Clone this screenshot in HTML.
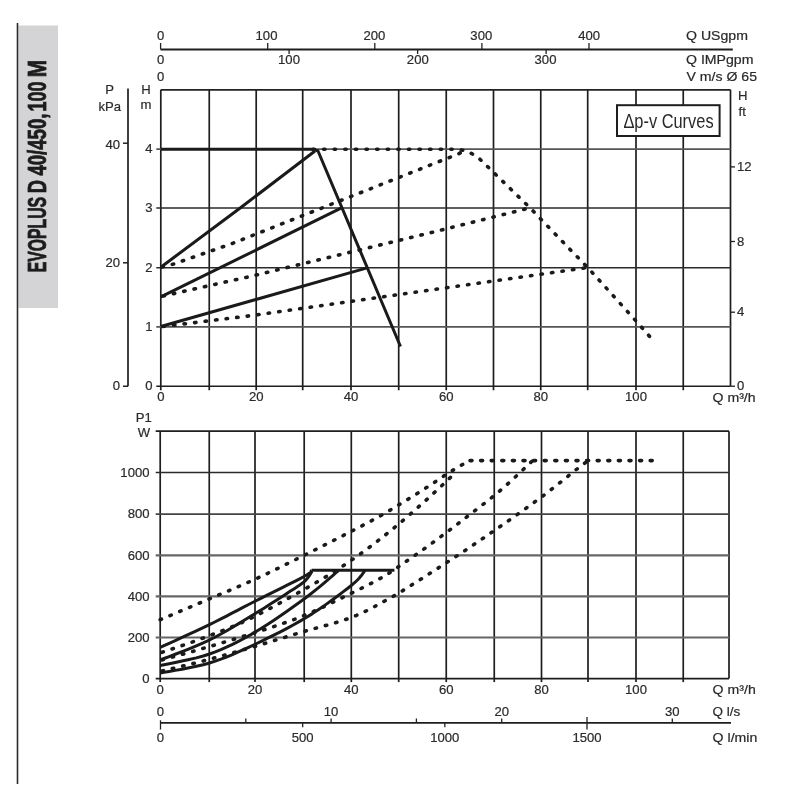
<!DOCTYPE html>
<html><head><meta charset="utf-8"><style>
html,body{margin:0;padding:0;background:#fff;width:800px;height:800px;overflow:hidden}
svg{position:absolute;left:0;top:0;font-family:"Liberation Sans", sans-serif;filter:blur(0.45px)}
</style></head><body>
<svg width="800" height="800" viewBox="0 0 800 800">
<rect x="18.5" y="25.5" width="39.5" height="282.5" fill="#d4d4d6"/>
<line x1="17.5" y1="23" x2="17.5" y2="784" stroke="#2a2a2a" stroke-width="1.6"/>
<line x1="160.6" y1="49.5" x2="732.8" y2="49.5" stroke="#1e1e1e" stroke-width="1.8"/>
<line x1="160.6" y1="43" x2="160.6" y2="49.5" stroke="#222" stroke-width="1.3"/>
<line x1="267.7" y1="43" x2="267.7" y2="49.5" stroke="#222" stroke-width="1.3"/>
<line x1="374.8" y1="43" x2="374.8" y2="49.5" stroke="#222" stroke-width="1.3"/>
<line x1="481.9" y1="43" x2="481.9" y2="49.5" stroke="#222" stroke-width="1.3"/>
<line x1="589.0" y1="43" x2="589.0" y2="49.5" stroke="#222" stroke-width="1.3"/>
<line x1="289.1" y1="49.5" x2="289.1" y2="54" stroke="#222" stroke-width="1.3"/>
<line x1="417.6" y1="49.5" x2="417.6" y2="54" stroke="#222" stroke-width="1.3"/>
<line x1="546.1" y1="49.5" x2="546.1" y2="54" stroke="#222" stroke-width="1.3"/>
<text x="0" y="0" transform="translate(160.6,39.5) scale(1.05,1)" text-anchor="middle" font-size="12.5" fill="#2a2a2a" stroke="#2a2a2a" stroke-width="0.2" >0</text>
<text x="0" y="0" transform="translate(266.5,39.5) scale(1.05,1)" text-anchor="middle" font-size="12.5" fill="#2a2a2a" stroke="#2a2a2a" stroke-width="0.2" >100</text>
<text x="0" y="0" transform="translate(374.4,39.5) scale(1.05,1)" text-anchor="middle" font-size="12.5" fill="#2a2a2a" stroke="#2a2a2a" stroke-width="0.2" >200</text>
<text x="0" y="0" transform="translate(481.3,39.5) scale(1.05,1)" text-anchor="middle" font-size="12.5" fill="#2a2a2a" stroke="#2a2a2a" stroke-width="0.2" >300</text>
<text x="0" y="0" transform="translate(589.1,39.5) scale(1.05,1)" text-anchor="middle" font-size="12.5" fill="#2a2a2a" stroke="#2a2a2a" stroke-width="0.2" >400</text>
<text x="0" y="0" transform="translate(160.6,63.8) scale(1.05,1)" text-anchor="middle" font-size="12.5" fill="#2a2a2a" stroke="#2a2a2a" stroke-width="0.2" >0</text>
<text x="0" y="0" transform="translate(289,63.8) scale(1.05,1)" text-anchor="middle" font-size="12.5" fill="#2a2a2a" stroke="#2a2a2a" stroke-width="0.2" >100</text>
<text x="0" y="0" transform="translate(417.8,63.8) scale(1.05,1)" text-anchor="middle" font-size="12.5" fill="#2a2a2a" stroke="#2a2a2a" stroke-width="0.2" >200</text>
<text x="0" y="0" transform="translate(545.5,63.8) scale(1.05,1)" text-anchor="middle" font-size="12.5" fill="#2a2a2a" stroke="#2a2a2a" stroke-width="0.2" >300</text>
<text x="0" y="0" transform="translate(160.6,81) scale(1.05,1)" text-anchor="middle" font-size="12.5" fill="#2a2a2a" stroke="#2a2a2a" stroke-width="0.2" >0</text>
<text x="0" y="0" transform="translate(686,39.5) scale(1.13,1)" text-anchor="start" font-size="12.5" fill="#2a2a2a" stroke="#2a2a2a" stroke-width="0.2" >Q USgpm</text>
<text x="0" y="0" transform="translate(686,63.6) scale(1.13,1)" text-anchor="start" font-size="12.5" fill="#2a2a2a" stroke="#2a2a2a" stroke-width="0.2" >Q IMPgpm</text>
<text x="0" y="0" transform="translate(686.4,81.2) scale(1.13,1)" text-anchor="start" font-size="12.5" fill="#2a2a2a" stroke="#2a2a2a" stroke-width="0.2" >V m/s Ø 65</text>
<line x1="160.8" y1="89.8" x2="160.8" y2="390.25" stroke="#1e1e1e" stroke-width="1.7"/>
<line x1="209.25" y1="89.8" x2="209.25" y2="390.25" stroke="#1e1e1e" stroke-width="1.7"/>
<line x1="256.2" y1="89.8" x2="256.2" y2="390.25" stroke="#1e1e1e" stroke-width="1.7"/>
<line x1="302.7" y1="89.8" x2="302.7" y2="390.25" stroke="#1e1e1e" stroke-width="1.7"/>
<line x1="351.0" y1="89.8" x2="351.0" y2="390.25" stroke="#1e1e1e" stroke-width="1.7"/>
<line x1="398.7" y1="89.8" x2="398.7" y2="390.25" stroke="#1e1e1e" stroke-width="1.7"/>
<line x1="446.25" y1="89.8" x2="446.25" y2="390.25" stroke="#1e1e1e" stroke-width="1.7"/>
<line x1="493.5" y1="89.8" x2="493.5" y2="390.25" stroke="#1e1e1e" stroke-width="1.7"/>
<line x1="540.75" y1="89.8" x2="540.75" y2="390.25" stroke="#1e1e1e" stroke-width="1.7"/>
<line x1="587.7" y1="89.8" x2="587.7" y2="390.25" stroke="#1e1e1e" stroke-width="1.7"/>
<line x1="636.0" y1="89.8" x2="636.0" y2="390.25" stroke="#1e1e1e" stroke-width="1.7"/>
<line x1="683.25" y1="89.8" x2="683.25" y2="390.25" stroke="#1e1e1e" stroke-width="1.7"/>
<line x1="730.5" y1="89.8" x2="730.5" y2="386.25" stroke="#1e1e1e" stroke-width="1.7"/>
<line x1="160.8" y1="89.8" x2="730.5" y2="89.8" stroke="#222" stroke-width="1.7"/>
<line x1="156.3" y1="149.2" x2="730.5" y2="149.2" stroke="#555" stroke-width="1.7"/>
<line x1="156.3" y1="208" x2="730.5" y2="208" stroke="#2a2a2a" stroke-width="1.7"/>
<line x1="156.3" y1="267.75" x2="730.5" y2="267.75" stroke="#2a2a2a" stroke-width="1.7"/>
<line x1="156.3" y1="326.8" x2="730.5" y2="326.8" stroke="#555" stroke-width="1.7"/>
<line x1="156.3" y1="386.25" x2="730.5" y2="386.25" stroke="#1e1e1e" stroke-width="1.7"/>
<line x1="730.5" y1="166.9" x2="735.0" y2="166.9" stroke="#222" stroke-width="1.3"/>
<line x1="730.5" y1="241.5" x2="735.0" y2="241.5" stroke="#222" stroke-width="1.3"/>
<line x1="730.5" y1="312.2" x2="735.0" y2="312.2" stroke="#222" stroke-width="1.3"/>
<line x1="730.5" y1="386.25" x2="735.0" y2="386.25" stroke="#222" stroke-width="1.3"/>
<line x1="128" y1="88.5" x2="128" y2="386.25" stroke="#1e1e1e" stroke-width="1.7"/>
<line x1="123" y1="143.2" x2="128" y2="143.2" stroke="#222" stroke-width="1.5"/>
<line x1="123" y1="262.8" x2="128" y2="262.8" stroke="#222" stroke-width="1.5"/>
<line x1="123" y1="386.25" x2="128" y2="386.25" stroke="#222" stroke-width="1.5"/>
<text x="0" y="0" transform="translate(109.6,93.5) scale(1.05,1)" text-anchor="middle" font-size="12.5" fill="#2a2a2a" stroke="#2a2a2a" stroke-width="0.2" >P</text>
<text x="0" y="0" transform="translate(109.8,110.5) scale(1.05,1)" text-anchor="middle" font-size="12.5" fill="#2a2a2a" stroke="#2a2a2a" stroke-width="0.2" >kPa</text>
<text x="0" y="0" transform="translate(146,93.5) scale(1.05,1)" text-anchor="middle" font-size="12.5" fill="#2a2a2a" stroke="#2a2a2a" stroke-width="0.2" >H</text>
<text x="0" y="0" transform="translate(146,109) scale(1.05,1)" text-anchor="middle" font-size="12.5" fill="#2a2a2a" stroke="#2a2a2a" stroke-width="0.2" >m</text>
<text x="0" y="0" transform="translate(120,149) scale(1.05,1)" text-anchor="end" font-size="12.5" fill="#2a2a2a" stroke="#2a2a2a" stroke-width="0.2" >40</text>
<text x="0" y="0" transform="translate(120,266.8) scale(1.05,1)" text-anchor="end" font-size="12.5" fill="#2a2a2a" stroke="#2a2a2a" stroke-width="0.2" >20</text>
<text x="0" y="0" transform="translate(120,390) scale(1.05,1)" text-anchor="end" font-size="12.5" fill="#2a2a2a" stroke="#2a2a2a" stroke-width="0.2" >0</text>
<text x="0" y="0" transform="translate(152.5,153.0) scale(1.05,1)" text-anchor="end" font-size="12.5" fill="#2a2a2a" stroke="#2a2a2a" stroke-width="0.2" >4</text>
<text x="0" y="0" transform="translate(152.5,211.8) scale(1.05,1)" text-anchor="end" font-size="12.5" fill="#2a2a2a" stroke="#2a2a2a" stroke-width="0.2" >3</text>
<text x="0" y="0" transform="translate(152.5,271.55) scale(1.05,1)" text-anchor="end" font-size="12.5" fill="#2a2a2a" stroke="#2a2a2a" stroke-width="0.2" >2</text>
<text x="0" y="0" transform="translate(152.5,330.6) scale(1.05,1)" text-anchor="end" font-size="12.5" fill="#2a2a2a" stroke="#2a2a2a" stroke-width="0.2" >1</text>
<text x="0" y="0" transform="translate(152.5,390.05) scale(1.05,1)" text-anchor="end" font-size="12.5" fill="#2a2a2a" stroke="#2a2a2a" stroke-width="0.2" >0</text>
<text x="0" y="0" transform="translate(738,99.6) scale(1.05,1)" text-anchor="start" font-size="12.5" fill="#2a2a2a" stroke="#2a2a2a" stroke-width="0.2" >H</text>
<text x="0" y="0" transform="translate(738.5,115.5) scale(1.05,1)" text-anchor="start" font-size="12.5" fill="#2a2a2a" stroke="#2a2a2a" stroke-width="0.2" >ft</text>
<text x="0" y="0" transform="translate(737,171.1) scale(1.05,1)" text-anchor="start" font-size="12.5" fill="#2a2a2a" stroke="#2a2a2a" stroke-width="0.2" >12</text>
<text x="0" y="0" transform="translate(737,245.7) scale(1.05,1)" text-anchor="start" font-size="12.5" fill="#2a2a2a" stroke="#2a2a2a" stroke-width="0.2" >8</text>
<text x="0" y="0" transform="translate(737,316.4) scale(1.05,1)" text-anchor="start" font-size="12.5" fill="#2a2a2a" stroke="#2a2a2a" stroke-width="0.2" >4</text>
<text x="0" y="0" transform="translate(737,390.45) scale(1.05,1)" text-anchor="start" font-size="12.5" fill="#2a2a2a" stroke="#2a2a2a" stroke-width="0.2" >0</text>
<text x="0" y="0" transform="translate(160.8,400.8) scale(1.05,1)" text-anchor="middle" font-size="12.5" fill="#2a2a2a" stroke="#2a2a2a" stroke-width="0.2" >0</text>
<text x="0" y="0" transform="translate(256.2,400.8) scale(1.05,1)" text-anchor="middle" font-size="12.5" fill="#2a2a2a" stroke="#2a2a2a" stroke-width="0.2" >20</text>
<text x="0" y="0" transform="translate(351.0,400.8) scale(1.05,1)" text-anchor="middle" font-size="12.5" fill="#2a2a2a" stroke="#2a2a2a" stroke-width="0.2" >40</text>
<text x="0" y="0" transform="translate(446.25,400.8) scale(1.05,1)" text-anchor="middle" font-size="12.5" fill="#2a2a2a" stroke="#2a2a2a" stroke-width="0.2" >60</text>
<text x="0" y="0" transform="translate(540.75,400.8) scale(1.05,1)" text-anchor="middle" font-size="12.5" fill="#2a2a2a" stroke="#2a2a2a" stroke-width="0.2" >80</text>
<text x="0" y="0" transform="translate(636.0,400.8) scale(1.05,1)" text-anchor="middle" font-size="12.5" fill="#2a2a2a" stroke="#2a2a2a" stroke-width="0.2" >100</text>
<text x="0" y="0" transform="translate(712.5,402) scale(1.13,1)" text-anchor="start" font-size="12.5" fill="#2a2a2a" stroke="#2a2a2a" stroke-width="0.2" >Q m³/h</text>
<rect x="617" y="105.2" width="102.6" height="30.8" fill="#fff" stroke="#1e1e1e" stroke-width="2"/>
<text x="668.5" y="128" text-anchor="middle" font-size="20.5" fill="#2a2a2a" transform="translate(668.5,0) scale(0.8,1) translate(-668.5,0)">Δp-v Curves</text>
<path d="M160.80,149.20 L313.00,149.20 L318.00,151.00 L400.50,346.50" fill="none" stroke="#1a1a1a" stroke-width="3.0" stroke-linejoin="round"/>
<path d="M160.80,267.20 L240.20,208.00 L315.00,151.00" fill="none" stroke="#1a1a1a" stroke-width="3.0" stroke-linejoin="round"/>
<path d="M160.80,296.90 L341.00,208.20" fill="none" stroke="#1a1a1a" stroke-width="3.0" stroke-linejoin="round"/>
<path d="M160.80,326.50 L368.00,267.60" fill="none" stroke="#1a1a1a" stroke-width="3.0" stroke-linejoin="round"/>
<path d="M313.00,149.20 L458.00,149.20 L468.00,151.50 L477.70,157.00 L530.20,208.00 L566.70,246.00 L587.70,267.50 L638.00,323.20 L654.00,341.50" fill="none" stroke="#1a1a1a" stroke-width="3.6" stroke-linejoin="round" stroke-dasharray="1.4 9.2" stroke-linecap="round"/>
<path d="M162.00,267.00 L173.75,264.00 L233.00,243.20 L458.20,154.00 L466.00,150.00" fill="none" stroke="#1a1a1a" stroke-width="3.6" stroke-linejoin="round" stroke-dasharray="1.4 9.2" stroke-linecap="round"/>
<path d="M163.00,296.00 L251.25,276.25 L424.50,234.25 L529.50,208.00" fill="none" stroke="#1a1a1a" stroke-width="3.6" stroke-linejoin="round" stroke-dasharray="1.4 9.2" stroke-linecap="round"/>
<path d="M163.00,326.50 L251.25,315.60 L587.70,267.50" fill="none" stroke="#1a1a1a" stroke-width="3.6" stroke-linejoin="round" stroke-dasharray="1.4 9.2" stroke-linecap="round"/>
<line x1="160.2" y1="431.2" x2="160.2" y2="682.1" stroke="#1e1e1e" stroke-width="1.7"/>
<line x1="209.25" y1="431.2" x2="209.25" y2="682.1" stroke="#1e1e1e" stroke-width="1.7"/>
<line x1="255.0" y1="431.2" x2="255.0" y2="682.1" stroke="#1e1e1e" stroke-width="1.7"/>
<line x1="304.2" y1="431.2" x2="304.2" y2="682.1" stroke="#1e1e1e" stroke-width="1.7"/>
<line x1="351.3" y1="431.2" x2="351.3" y2="682.1" stroke="#1e1e1e" stroke-width="1.7"/>
<line x1="398.7" y1="431.2" x2="398.7" y2="682.1" stroke="#1e1e1e" stroke-width="1.7"/>
<line x1="446.25" y1="431.2" x2="446.25" y2="682.1" stroke="#1e1e1e" stroke-width="1.7"/>
<line x1="494.25" y1="431.2" x2="494.25" y2="682.1" stroke="#1e1e1e" stroke-width="1.7"/>
<line x1="541.5" y1="431.2" x2="541.5" y2="682.1" stroke="#1e1e1e" stroke-width="1.7"/>
<line x1="588.0" y1="431.2" x2="588.0" y2="682.1" stroke="#1e1e1e" stroke-width="1.7"/>
<line x1="636.0" y1="431.2" x2="636.0" y2="682.1" stroke="#1e1e1e" stroke-width="1.7"/>
<line x1="683.25" y1="431.2" x2="683.25" y2="682.1" stroke="#1e1e1e" stroke-width="1.7"/>
<line x1="729.0" y1="431.2" x2="729.0" y2="678.6" stroke="#1e1e1e" stroke-width="1.7"/>
<line x1="155.7" y1="431.2" x2="729.0" y2="431.2" stroke="#1e1e1e" stroke-width="1.7"/>
<line x1="155.7" y1="472.5" x2="729.0" y2="472.5" stroke="#2a2a2a" stroke-width="1.7"/>
<line x1="155.7" y1="514.06" x2="729.0" y2="514.06" stroke="#444" stroke-width="1.7"/>
<line x1="155.7" y1="555.3" x2="729.0" y2="555.3" stroke="#666" stroke-width="2.2"/>
<line x1="155.7" y1="596.4" x2="729.0" y2="596.4" stroke="#666" stroke-width="2.2"/>
<line x1="155.7" y1="637.5" x2="729.0" y2="637.5" stroke="#666" stroke-width="2.2"/>
<line x1="155.7" y1="678.6" x2="729.0" y2="678.6" stroke="#1e1e1e" stroke-width="1.7"/>
<text x="0" y="0" transform="translate(143.8,422) scale(1.05,1)" text-anchor="middle" font-size="12.5" fill="#2a2a2a" stroke="#2a2a2a" stroke-width="0.2" >P1</text>
<text x="0" y="0" transform="translate(144,437) scale(1.05,1)" text-anchor="middle" font-size="12.5" fill="#2a2a2a" stroke="#2a2a2a" stroke-width="0.2" >W</text>
<text x="0" y="0" transform="translate(149.5,476.8) scale(1.05,1)" text-anchor="end" font-size="12.5" fill="#2a2a2a" stroke="#2a2a2a" stroke-width="0.2" >1000</text>
<text x="0" y="0" transform="translate(149.5,518.3599999999999) scale(1.05,1)" text-anchor="end" font-size="12.5" fill="#2a2a2a" stroke="#2a2a2a" stroke-width="0.2" >800</text>
<text x="0" y="0" transform="translate(149.5,559.5999999999999) scale(1.05,1)" text-anchor="end" font-size="12.5" fill="#2a2a2a" stroke="#2a2a2a" stroke-width="0.2" >600</text>
<text x="0" y="0" transform="translate(149.5,600.6999999999999) scale(1.05,1)" text-anchor="end" font-size="12.5" fill="#2a2a2a" stroke="#2a2a2a" stroke-width="0.2" >400</text>
<text x="0" y="0" transform="translate(149.5,641.8) scale(1.05,1)" text-anchor="end" font-size="12.5" fill="#2a2a2a" stroke="#2a2a2a" stroke-width="0.2" >200</text>
<text x="0" y="0" transform="translate(149.5,682.9) scale(1.05,1)" text-anchor="end" font-size="12.5" fill="#2a2a2a" stroke="#2a2a2a" stroke-width="0.2" >0</text>
<text x="0" y="0" transform="translate(160.2,694.4) scale(1.05,1)" text-anchor="middle" font-size="12.5" fill="#2a2a2a" stroke="#2a2a2a" stroke-width="0.2" >0</text>
<text x="0" y="0" transform="translate(255.0,694.4) scale(1.05,1)" text-anchor="middle" font-size="12.5" fill="#2a2a2a" stroke="#2a2a2a" stroke-width="0.2" >20</text>
<text x="0" y="0" transform="translate(351.3,694.4) scale(1.05,1)" text-anchor="middle" font-size="12.5" fill="#2a2a2a" stroke="#2a2a2a" stroke-width="0.2" >40</text>
<text x="0" y="0" transform="translate(446.25,694.4) scale(1.05,1)" text-anchor="middle" font-size="12.5" fill="#2a2a2a" stroke="#2a2a2a" stroke-width="0.2" >60</text>
<text x="0" y="0" transform="translate(541.5,694.4) scale(1.05,1)" text-anchor="middle" font-size="12.5" fill="#2a2a2a" stroke="#2a2a2a" stroke-width="0.2" >80</text>
<text x="0" y="0" transform="translate(636.0,694.4) scale(1.05,1)" text-anchor="middle" font-size="12.5" fill="#2a2a2a" stroke="#2a2a2a" stroke-width="0.2" >100</text>
<text x="0" y="0" transform="translate(712.6,694.2) scale(1.13,1)" text-anchor="start" font-size="12.5" fill="#2a2a2a" stroke="#2a2a2a" stroke-width="0.2" >Q m³/h</text>
<line x1="160.5" y1="722.8" x2="731" y2="722.8" stroke="#1e1e1e" stroke-width="1.8"/>
<line x1="160.5" y1="720.3" x2="160.5" y2="729.5" stroke="#222" stroke-width="1.3"/>
<line x1="245.8" y1="718.5" x2="245.8" y2="722.8" stroke="#222" stroke-width="1.3"/>
<line x1="331.1" y1="718.5" x2="331.1" y2="722.8" stroke="#222" stroke-width="1.3"/>
<line x1="416.4" y1="718.5" x2="416.4" y2="722.8" stroke="#222" stroke-width="1.3"/>
<line x1="501.7" y1="718.5" x2="501.7" y2="722.8" stroke="#222" stroke-width="1.3"/>
<line x1="672.3" y1="718.5" x2="672.3" y2="722.8" stroke="#222" stroke-width="1.3"/>
<line x1="587.0" y1="717" x2="587.0" y2="729.5" stroke="#222" stroke-width="1.3"/>
<line x1="302.66666666666663" y1="722.8" x2="302.66666666666663" y2="727.2" stroke="#222" stroke-width="1.3"/>
<line x1="444.8333333333333" y1="722.8" x2="444.8333333333333" y2="727.2" stroke="#222" stroke-width="1.3"/>
<text x="0" y="0" transform="translate(160.5,716.2) scale(1.05,1)" text-anchor="middle" font-size="12.5" fill="#2a2a2a" stroke="#2a2a2a" stroke-width="0.2" >0</text>
<text x="0" y="0" transform="translate(331.1,716.2) scale(1.05,1)" text-anchor="middle" font-size="12.5" fill="#2a2a2a" stroke="#2a2a2a" stroke-width="0.2" >10</text>
<text x="0" y="0" transform="translate(501.7,716.2) scale(1.05,1)" text-anchor="middle" font-size="12.5" fill="#2a2a2a" stroke="#2a2a2a" stroke-width="0.2" >20</text>
<text x="0" y="0" transform="translate(672.3,716.2) scale(1.05,1)" text-anchor="middle" font-size="12.5" fill="#2a2a2a" stroke="#2a2a2a" stroke-width="0.2" >30</text>
<text x="0" y="0" transform="translate(712.6,716.2) scale(1.08,1)" text-anchor="start" font-size="12.5" fill="#2a2a2a" stroke="#2a2a2a" stroke-width="0.2" >Q l/s</text>
<text x="0" y="0" transform="translate(160.5,741.8) scale(1.05,1)" text-anchor="middle" font-size="12.5" fill="#2a2a2a" stroke="#2a2a2a" stroke-width="0.2" >0</text>
<text x="0" y="0" transform="translate(302.66666666666663,741.8) scale(1.05,1)" text-anchor="middle" font-size="12.5" fill="#2a2a2a" stroke="#2a2a2a" stroke-width="0.2" >500</text>
<text x="0" y="0" transform="translate(444.8333333333333,741.8) scale(1.05,1)" text-anchor="middle" font-size="12.5" fill="#2a2a2a" stroke="#2a2a2a" stroke-width="0.2" >1000</text>
<text x="0" y="0" transform="translate(587.0,741.8) scale(1.05,1)" text-anchor="middle" font-size="12.5" fill="#2a2a2a" stroke="#2a2a2a" stroke-width="0.2" >1500</text>
<text x="0" y="0" transform="translate(712.6,742) scale(1.13,1)" text-anchor="start" font-size="12.5" fill="#2a2a2a" stroke="#2a2a2a" stroke-width="0.2" >Q l/min</text>
<path d="M160.20,647.40 L164.03,645.64 L169.16,643.31 L175.27,640.53 L182.04,637.44 L189.16,634.17 L196.32,630.86 L203.21,627.62 L209.50,624.60 L215.30,621.74 L220.94,618.90 L226.47,616.05 L231.96,613.20 L237.46,610.33 L243.01,607.43 L248.67,604.49 L254.50,601.50 L260.80,598.32 L267.63,594.90 L274.73,591.36 L281.82,587.83 L288.61,584.44 L294.82,581.30 L300.18,578.55 L304.40,576.30 L307.38,574.59 L309.35,573.31 L310.51,572.38 L311.07,571.72 L311.24,571.27 L311.23,570.93 L311.24,570.63 L311.50,570.30" fill="none" stroke="#1a1a1a" stroke-width="3.0" stroke-linejoin="round"/>
<path d="M311.50,570.30 L394.40,570.30" fill="none" stroke="#1a1a1a" stroke-width="3.0" stroke-linejoin="round"/>
<path d="M160.20,660.00 L164.03,658.50 L169.16,656.55 L175.27,654.23 L182.04,651.62 L189.16,648.82 L196.32,645.89 L203.21,642.92 L209.50,640.00 L215.41,637.00 L221.33,633.80 L227.22,630.47 L233.02,627.06 L238.69,623.65 L244.19,620.29 L249.48,617.05 L254.50,614.00 L259.31,611.07 L263.97,608.18 L268.46,605.34 L272.76,602.59 L276.83,599.96 L280.66,597.46 L284.23,595.14 L287.50,593.00 L290.45,591.10 L293.08,589.42 L295.43,587.93 L297.54,586.56 L299.45,585.29 L301.21,584.05 L302.84,582.80 L304.40,581.50 L305.85,580.11 L307.13,578.66 L308.27,577.20 L309.26,575.78 L310.12,574.45 L310.85,573.26 L311.48,572.26 L312.00,571.50" fill="none" stroke="#1a1a1a" stroke-width="3.0" stroke-linejoin="round"/>
<path d="M160.20,665.50 L164.03,664.68 L169.16,663.67 L175.27,662.47 L182.04,661.09 L189.16,659.55 L196.32,657.85 L203.21,655.99 L209.50,654.00 L215.30,651.87 L220.94,649.62 L226.47,647.21 L231.96,644.64 L237.46,641.90 L243.01,638.97 L248.67,635.84 L254.50,632.50 L260.61,628.83 L267.00,624.79 L273.55,620.49 L280.13,616.04 L286.63,611.53 L292.92,607.08 L298.89,602.78 L304.40,598.75 L309.65,594.77 L314.84,590.66 L319.84,586.55 L324.57,582.57 L328.90,578.85 L332.74,575.53 L335.98,572.73 L338.50,570.60" fill="none" stroke="#1a1a1a" stroke-width="3.0" stroke-linejoin="round"/>
<path d="M160.20,673.00 L164.03,672.29 L169.16,671.40 L175.27,670.36 L182.04,669.16 L189.16,667.81 L196.32,666.33 L203.21,664.73 L209.50,663.00 L215.28,661.15 L220.89,659.17 L226.39,657.06 L231.85,654.81 L237.32,652.43 L242.88,649.92 L248.58,647.28 L254.50,644.50 L260.69,641.57 L267.12,638.46 L273.71,635.22 L280.38,631.84 L287.04,628.36 L293.63,624.80 L300.06,621.17 L306.25,617.50 L312.41,613.62 L318.71,609.45 L324.99,605.11 L331.12,600.74 L336.96,596.47 L342.36,592.41 L347.17,588.72 L351.25,585.50 L354.56,582.72 L357.21,580.22 L359.30,578.01 L360.94,576.05 L362.22,574.34 L363.26,572.88 L364.15,571.63 L365.00,570.60" fill="none" stroke="#1a1a1a" stroke-width="3.0" stroke-linejoin="round"/>
<path d="M160.20,619.75 L164.00,618.14 L169.07,616.00 L175.09,613.46 L181.79,610.62 L188.87,607.63 L196.02,604.60 L202.97,601.65 L209.40,598.90 L215.40,596.35 L221.29,593.87 L227.12,591.42 L232.95,588.95 L238.84,586.43 L244.86,583.81 L251.06,581.05 L257.50,578.10 L264.22,574.94 L271.18,571.61 L278.32,568.14 L285.59,564.56 L292.92,560.92 L300.25,557.26 L307.53,553.61 L314.70,550.00 L321.98,546.33 L329.53,542.50 L337.17,538.60 L344.74,534.72 L352.08,530.93 L359.01,527.33 L365.38,523.99 L371.00,521.00 L375.77,518.42 L379.80,516.18 L383.25,514.21 L386.30,512.43 L389.12,510.74 L391.87,509.06 L394.75,507.31 L397.90,505.40 L401.25,503.37 L404.60,501.33 L407.95,499.27 L411.29,497.19 L414.64,495.10 L417.98,493.00 L421.31,490.88 L424.65,488.75 L428.04,486.55 L431.52,484.26 L435.04,481.93 L438.53,479.60 L441.95,477.32 L445.24,475.14 L448.36,473.10 L451.25,471.25 L453.99,469.55 L456.67,467.94 L459.25,466.42 L461.66,465.03 L463.87,463.77 L465.82,462.67 L467.46,461.74 L468.75,461.00" fill="none" stroke="#1a1a1a" stroke-width="3.6" stroke-linejoin="round" stroke-dasharray="1.4 9.2" stroke-linecap="round"/>
<path d="M470.00,460.60 L653.00,460.60" fill="none" stroke="#1a1a1a" stroke-width="3.6" stroke-linejoin="round" stroke-dasharray="2 8.6" stroke-linecap="round"/>
<path d="M162.00,652.30 L165.02,651.28 L168.97,649.97 L173.66,648.41 L178.91,646.65 L184.55,644.74 L190.38,642.71 L196.22,640.62 L201.90,638.50 L207.45,636.40 L213.05,634.30 L218.76,632.14 L224.62,629.87 L230.68,627.42 L236.99,624.75 L243.58,621.79 L250.50,618.50 L258.05,614.70 L266.31,610.37 L275.00,605.68 L283.86,600.81 L292.62,595.91 L301.01,591.16 L308.76,586.74 L315.60,582.80 L321.49,579.37 L326.65,576.29 L331.25,573.47 L335.45,570.84 L339.39,568.29 L343.23,565.74 L347.13,563.11 L351.25,560.30 L355.49,557.37 L359.65,554.42 L363.77,551.44 L367.84,548.44 L371.88,545.40 L375.92,542.31 L379.95,539.18 L384.00,536.00 L388.06,532.76 L392.12,529.46 L396.16,526.12 L400.20,522.74 L404.23,519.32 L408.25,515.87 L412.26,512.39 L416.25,508.90 L420.38,505.24 L424.72,501.34 L429.14,497.32 L433.50,493.32 L437.67,489.46 L441.53,485.87 L444.93,482.67 L447.75,480.00 L449.95,477.86 L451.64,476.14 L452.91,474.77 L453.84,473.69 L454.53,472.84 L455.06,472.15 L455.52,471.56 L456.00,471.00" fill="none" stroke="#1a1a1a" stroke-width="3.6" stroke-linejoin="round" stroke-dasharray="1.4 9.2" stroke-linecap="round"/>
<path d="M162.00,660.00 L166.94,658.60 L173.45,656.78 L181.20,654.62 L189.85,652.19 L199.05,649.59 L208.45,646.88 L217.71,644.16 L226.50,641.50 L235.17,638.83 L244.19,636.03 L253.42,633.14 L262.69,630.19 L271.83,627.21 L280.69,624.23 L289.10,621.29 L296.90,618.40 L304.11,615.54 L310.89,612.66 L317.30,609.78 L323.38,606.91 L329.20,604.08 L334.81,601.31 L340.25,598.61 L345.60,596.00 L350.80,593.49 L355.78,591.08 L360.56,588.73 L365.16,586.44 L369.57,584.19 L373.83,581.96 L377.93,579.74 L381.90,577.50 L385.66,575.27 L389.17,573.07 L392.49,570.89 L395.67,568.73 L398.76,566.56 L401.83,564.39 L404.92,562.21 L408.10,560.00 L411.28,557.81 L414.37,555.68 L417.43,553.57 L420.48,551.43 L423.60,549.23 L426.82,546.93 L430.18,544.50 L433.75,541.90 L437.54,539.10 L441.53,536.13 L445.66,533.03 L449.90,529.83 L454.20,526.57 L458.51,523.28 L462.79,519.99 L467.00,516.75 L471.16,513.54 L475.34,510.34 L479.52,507.13 L483.70,503.90 L487.87,500.63 L492.03,497.32 L496.15,493.94 L500.25,490.50 L504.53,486.77 L509.09,482.66 L513.75,478.38 L518.33,474.11 L522.65,470.04 L526.53,466.38 L529.79,463.30 L532.25,461.00" fill="none" stroke="#1a1a1a" stroke-width="3.6" stroke-linejoin="round" stroke-dasharray="1.4 9.2" stroke-linecap="round"/>
<path d="M162.00,671.00 L165.13,670.25 L169.24,669.27 L174.13,668.11 L179.59,666.81 L185.42,665.41 L191.40,663.95 L197.33,662.46 L203.00,661.00 L208.52,659.54 L214.13,658.02 L219.83,656.45 L225.62,654.84 L231.48,653.19 L237.42,651.50 L243.43,649.77 L249.50,648.00 L255.67,646.18 L261.96,644.29 L268.35,642.35 L274.79,640.38 L281.27,638.39 L287.75,636.40 L294.20,634.43 L300.60,632.50 L307.04,630.63 L313.60,628.80 L320.20,627.00 L326.78,625.20 L333.24,623.38 L339.52,621.50 L345.55,619.55 L351.25,617.50 L356.64,615.32 L361.80,613.02 L366.74,610.63 L371.49,608.20 L376.05,605.76 L380.43,603.35 L384.66,601.00 L388.75,598.75 L392.56,596.64 L396.02,594.66 L399.24,592.75 L402.33,590.86 L405.40,588.94 L408.56,586.94 L411.93,584.81 L415.60,582.50 L419.64,579.95 L423.98,577.20 L428.51,574.30 L433.13,571.33 L437.75,568.35 L442.27,565.42 L446.59,562.62 L450.60,560.00 L454.25,557.62 L457.59,555.43 L460.73,553.36 L463.77,551.34 L466.80,549.32 L469.94,547.21 L473.27,544.96 L476.90,542.50 L480.84,539.81 L485.01,536.97 L489.34,534.00 L493.78,530.94 L498.28,527.82 L502.79,524.69 L507.25,521.57 L511.60,518.50 L515.87,515.47 L520.13,512.45 L524.37,509.43 L528.59,506.39 L532.81,503.34 L537.01,500.26 L541.21,497.15 L545.40,494.00 L549.74,490.67 L554.30,487.10 L558.94,483.43 L563.52,479.77 L567.92,476.24 L571.99,472.98 L575.59,470.11 L578.60,467.75 L580.98,465.93 L582.84,464.53 L584.28,463.49 L585.38,462.73 L586.21,462.18 L586.87,461.76 L587.44,461.39 L588.00,461.00" fill="none" stroke="#1a1a1a" stroke-width="3.6" stroke-linejoin="round" stroke-dasharray="1.4 9.2" stroke-linecap="round"/>
<text x="0" y="0" font-size="28" font-weight="bold" fill="#1c1c1c" stroke="#1c1c1c" stroke-width="0.9" transform="translate(46,272.3) rotate(-90) scale(0.564,0.91)">EVOPLUS</text>
<text x="0" y="0" font-size="28" font-weight="bold" fill="#1c1c1c" stroke="#1c1c1c" stroke-width="0.9" transform="translate(46,193.2) rotate(-90) scale(0.66,0.91)">D</text>
<text x="0" y="0" font-size="28" font-weight="bold" fill="#1c1c1c" stroke="#1c1c1c" stroke-width="0.9" transform="translate(46,175.6) rotate(-90) scale(0.665,0.91)">40/450,</text>
<text x="0" y="0" font-size="28" font-weight="bold" fill="#1c1c1c" stroke="#1c1c1c" stroke-width="0.9" transform="translate(46,111.5) rotate(-90) scale(0.64,0.91)">100</text>
<text x="0" y="0" font-size="28" font-weight="bold" fill="#1c1c1c" stroke="#1c1c1c" stroke-width="0.9" transform="translate(46,77.2) rotate(-90) scale(0.745,0.91)">M</text>
</svg>
</body></html>
